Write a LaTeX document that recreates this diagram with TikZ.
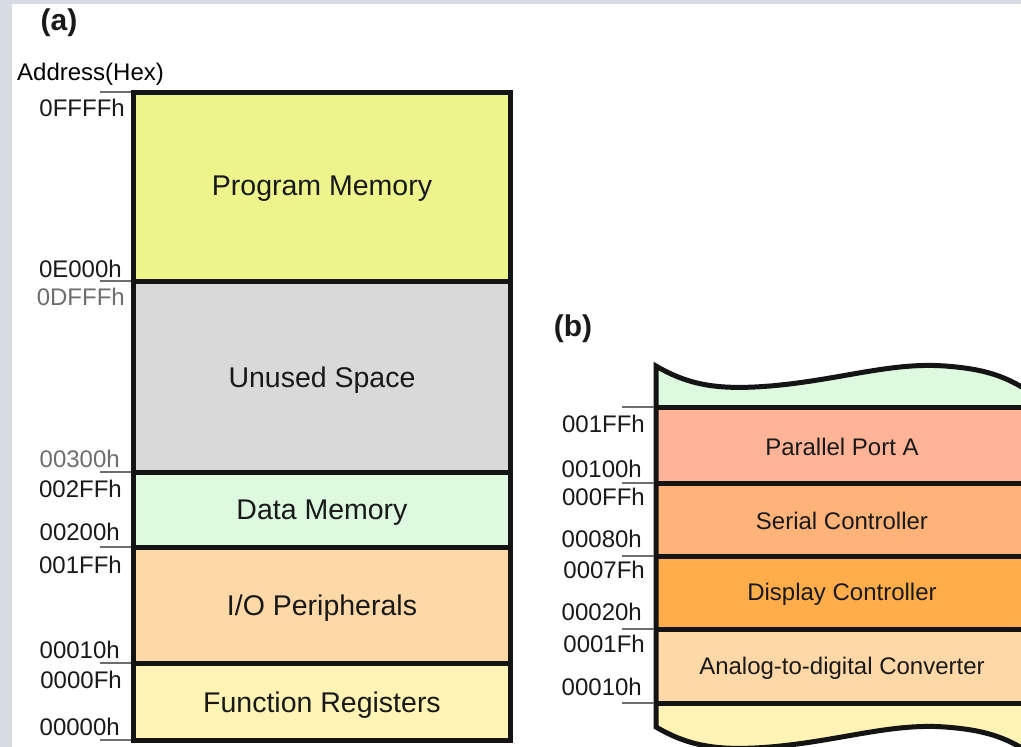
\documentclass[tikz,border=0pt]{standalone}
\usepackage{fontspec}
\setmainfont{Liberation Sans}
\usepackage{tikz}
\usetikzlibrary{calc}

\definecolor{pagegrey}{HTML}{D6DCE1}
\definecolor{progmem}{HTML}{EDF48C}
\definecolor{unused}{HTML}{D9D9D9}
\definecolor{datamem}{HTML}{DDF9DF}
\definecolor{ioper}{HTML}{FFD8A8}
\definecolor{funcreg}{HTML}{FFF4B5}
\definecolor{parport}{HTML}{FFB497}
\definecolor{serctl}{HTML}{FFB378}
\definecolor{dispctl}{HTML}{FFAD4B}
\definecolor{labgrey}{HTML}{6E6E6E}

\tikzset{
  addr/.style={anchor=base east, inner sep=0pt, font=\fontsize{24}{26}\selectfont, text=black!90},
  greyaddr/.style={addr, text=labgrey},
  boxtext/.style={font=\fontsize{28.5}{30}\selectfont, text=black!90},
  btext/.style={font=\fontsize{24}{26}\selectfont, text=black!90},
  title/.style={font=\fontsize{30}{32}\selectfont\bfseries, text=black!90},
  tick/.style={draw=labgrey, line width=1.5pt},
  memline/.style={draw=black!92, line width=5pt}
}

\begin{document}
\begin{tikzpicture}[x=1pt, y=-1pt]
\useasboundingbox (0,0) rectangle (1021,747);
\fill[pagegrey] (0,0) rectangle (1021,747);
\fill[white] (12,4) rectangle (1021,747);

% (a) memory map
\node[title] (ta) at (59,23) {(a)};
\node[anchor=base west, inner sep=0pt, font=\fontsize{24}{26}\selectfont] (hex) at (17,80) {Address(Hex)};

\fill[progmem] (133,92) rectangle (510,281);
\fill[unused] (133,281) rectangle (510,472);
\fill[datamem] (133,472) rectangle (510,547);
\fill[ioper] (133,547) rectangle (510,663);
\fill[funcreg] (133,663) rectangle (510,740);
\draw[memline] (133,92) rectangle (510,740);
\draw[memline] (133,281) -- (510,281);
\draw[memline] (133,472) -- (510,472);
\draw[memline] (133,547) -- (510,547);
\draw[memline] (133,663) -- (510,663);

\foreach \y in {92,281,472,547,663,740}
  \draw[tick] (100,\y) -- (131,\y);

\node[boxtext] (pm) at (322,189) {Program Memory};
\node[boxtext] (us) at (322,380) {Unused Space};
\node[boxtext] (dm) at (322,513) {Data Memory};
\node[boxtext] (io) at (322,608) {I/O Peripherals};
\node[boxtext] (fr) at (322,705) {Function Registers};

\node[addr] (a1) at (125,116) {0FFFFh};
\node[addr] (a2) at (122,277) {0E000h};
\node[greyaddr] (a3) at (125,305) {0DFFFh};
\node[greyaddr] (a4) at (120,467) {00300h};
\node[addr] (a5) at (122,497) {002FFh};
\node[addr] (a6) at (120,540) {00200h};
\node[addr] (a7) at (122,573) {001FFh};
\node[addr] (a8) at (120,658) {00010h};
\node[addr] (a9) at (122,688) {0000Fh};
\node[addr] (a10) at (120,735) {00000h};

% (b) peripheral area
\node[title] (tb) at (573,329) {(b)};

\begin{scope}
\clip (0,0) rectangle (1021,747);
\fill[datamem] (656,407) -- (656,366) .. controls (690,386) and (720,390) .. (770,386)
  .. controls (840,380) and (890,362) .. (945,366) .. controls (985,369) and (1005,376) .. (1030,392)
  -- (1030,407) -- cycle;
\fill[parport] (656,407) rectangle (1030,483);
\fill[serctl] (656,483) rectangle (1030,556);
\fill[dispctl] (656,556) rectangle (1030,629);
\fill[ioper] (656,629) rectangle (1030,703);
\fill[funcreg] (656,703) -- (656,727) .. controls (690,747) and (720,751) .. (770,747)
  .. controls (840,741) and (890,723) .. (945,727) .. controls (985,730) and (1005,737) .. (1030,753)
  -- (1030,703) -- cycle;
\draw[memline] (1030,392) .. controls (1005,376) and (985,369) .. (945,366)
  .. controls (890,362) and (840,380) .. (770,386) .. controls (720,390) and (690,386) .. (656,366)
  -- (656,727) .. controls (690,747) and (720,751) .. (770,747)
  .. controls (840,741) and (890,723) .. (945,727) .. controls (985,730) and (1005,737) .. (1030,753);
\draw[memline] (656,407) -- (1030,407);
\draw[memline] (656,483) -- (1030,483);
\draw[memline] (656,556) -- (1030,556);
\draw[memline] (656,629) -- (1030,629);
\draw[memline] (656,703) -- (1030,703);
\end{scope}

\foreach \y in {407,483,556,629,703}
  \draw[tick] (622,\y) -- (654,\y);

\node[btext] (pa) at (842,447) {Parallel Port A};
\node[btext] (sc) at (842,521) {Serial Controller};
\node[btext] (dc) at (842,594) {Display Controller};
\node[btext] (ad) at (842,668) {Analog-to-digital Converter};

\node[addr] (b1) at (645,432) {001FFh};
\node[addr] (b2) at (642,477) {00100h};
\node[addr] (b3) at (645,505) {000FFh};
\node[addr] (b4) at (642,547) {00080h};
\node[addr] (b5) at (645,578) {0007Fh};
\node[addr] (b6) at (642,620) {00020h};
\node[addr] (b7) at (645,652) {0001Fh};
\node[addr] (b8) at (642,695) {00010h};
\end{tikzpicture}
\end{document}
